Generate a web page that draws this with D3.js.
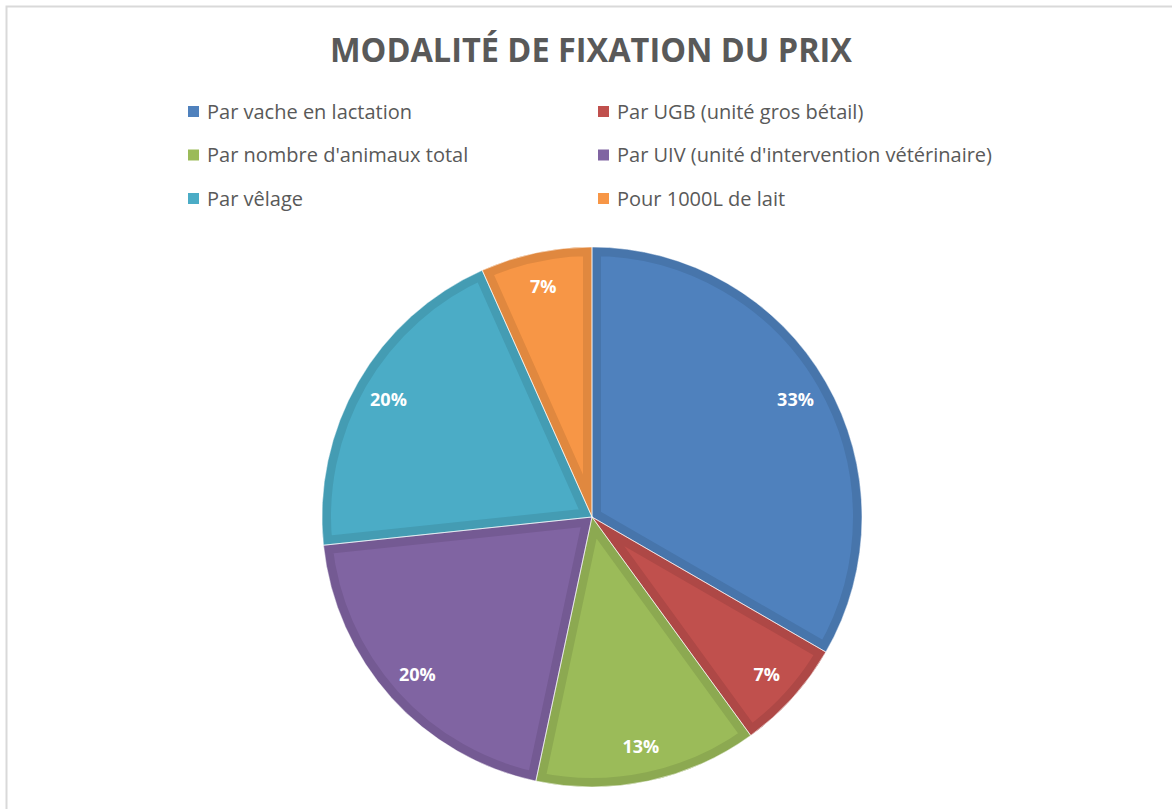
<!DOCTYPE html>
<html>
<head>
<meta charset="utf-8">
<script src="https://cdn.jsdelivr.net/npm/d3@7"></script>
<style>
  html, body { margin: 0; padding: 0; background: #fff; }
  svg { display: block; }
</style>
</head>
<body>
<svg id="chart" width="1172" height="809"></svg>
<script>
const title = "MODALITÉ DE FIXATION DU PRIX";
const categories = [
  "Par vache en lactation",
  "Par UGB (unité gros bétail)",
  "Par nombre d'animaux total",
  "Par UIV (unité d'intervention vétérinaire)",
  "Par vêlage",
  "Pour 1000L de lait"
];
const values = [5, 1, 2, 3, 3, 1];
const colors = ["#4F81BD", "#C0504D", "#9BBB59", "#8064A2", "#4BACC6", "#F79646"];

const svg = d3.select("#chart");

// outer frame
svg.append("rect")
  .attr("x", 6.5).attr("y", 6.5)
  .attr("width", 1200).attr("height", 900)
  .attr("fill", "#fff")
  .attr("stroke", "#d9d9d9").attr("stroke-width", 2);

// title
svg.append("text")
  .attr("x", 591).attr("y", 62)
  .attr("text-anchor", "middle")
  .attr("font-family", "'Open Sans', sans-serif")
  .attr("font-weight", "bold")
  .attr("font-size", 34)
  .attr("fill", "#595959")
  .attr("textLength", 522)
  .attr("lengthAdjust", "spacingAndGlyphs")
  .text(title);

// legend
const legCols = [188, 598];
const legRows = [111.5, 155, 198.5];
const leg = svg.append("g");
categories.forEach((c, i) => {
  const x = legCols[i % 2];
  const y = legRows[Math.floor(i / 2)];
  leg.append("rect")
    .attr("x", x).attr("y", y - 5.5)
    .attr("width", 11).attr("height", 11)
    .attr("fill", colors[i]);
  leg.append("text")
    .attr("x", x + 19).attr("y", y + 7)
    .attr("font-family", "'Open Sans', sans-serif")
    .attr("font-size", 20)
    .attr("fill", "#595959")
    .text(c);
});

// pie
const cx = 592, cy = 517, R = 270;
const total = d3.sum(values);
const pie = d3.pie().sort(null).value(d => d);
const arcs = pie(values);
const arc = d3.arc().innerRadius(0).outerRadius(R);
const labelArc = d3.arc().innerRadius(235).outerRadius(235);

const g = svg.append("g").attr("transform", `translate(${cx},${cy})`);
const defs = svg.append("defs");

arcs.forEach((a, i) => {
  defs.append("clipPath").attr("id", "clip" + i)
    .append("path").attr("d", arc(a));
  const dark = d3.color(colors[i]).darker(0.28);
  g.append("path")
    .attr("d", arc(a))
    .attr("clip-path", `url(#clip${i})`)
    .attr("fill", colors[i])
    .attr("stroke", dark.formatHex())
    .attr("stroke-width", 18)
    .attr("stroke-linejoin", "miter");
});
// thin light separators
arcs.forEach((a) => {
  g.append("path")
    .attr("d", arc(a))
    .attr("fill", "none")
    .attr("stroke", "rgba(255,255,255,0.55)")
    .attr("stroke-width", 1);
});

// labels
arcs.forEach((a) => {
  const [lx, ly] = labelArc.centroid(a);
  g.append("text")
    .attr("x", lx).attr("y", ly)
    .attr("dy", "0.35em")
    .attr("text-anchor", "middle")
    .attr("font-family", "'Open Sans', sans-serif")
    .attr("font-weight", "bold")
    .attr("font-size", 18)
    .attr("fill", "#fff")
    .text(Math.round(a.data / total * 100) + "%");
});
</script>
</body>
</html>
